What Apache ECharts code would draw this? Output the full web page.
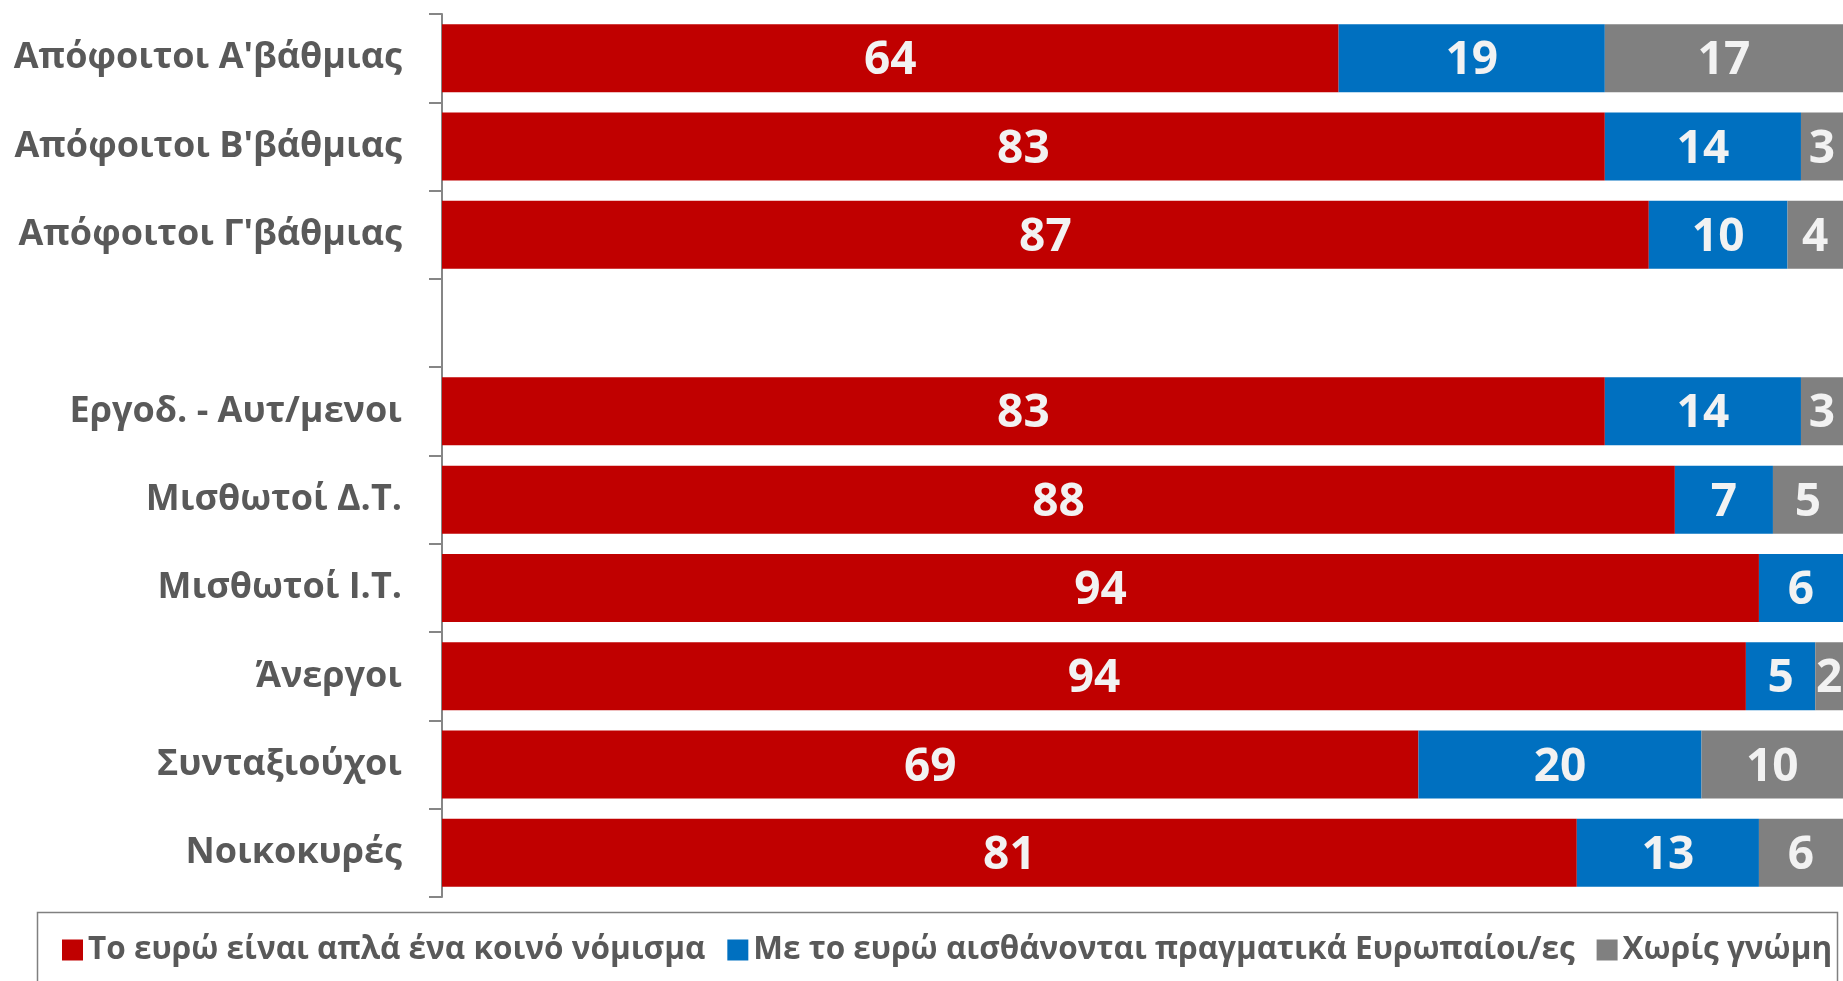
<!DOCTYPE html>
<html><head><meta charset="utf-8">
<script src="https://cdn.jsdelivr.net/npm/echarts@6/dist/echarts.min.js"></script>
<style>html,body{margin:0;padding:0;background:#fff}#c{width:1843px;height:981px}</style>
</head><body><div id="c"></div>
<script>
const categories = ["Απόφοιτοι Α'βάθμιας","Απόφοιτοι Β'βάθμιας","Απόφοιτοι Γ'βάθμιας","","Εργοδ. - Αυτ/μενοι","Μισθωτοί Δ.Τ.","Μισθωτοί Ι.Τ.","Άνεργοι","Συνταξιούχοι","Νοικοκυρές"];
const seriesNames = ["Το ευρώ είναι απλά ένα κοινό νόμισμα","Με το ευρώ αισθάνονται πραγματικά Ευρωπαίοι/ες","Χωρίς γνώμη"];
const commonCurrency = [64,83,87,null,83,88,94,94,69,81];
const feelEuropean   = [19,14,10,null,14,7,6,5,20,13];
const noOpinion      = [17,3,4,null,3,5,null,2,10,6];
const colors = ["#C00000","#0070C0","#808080"];

const raw = [commonCurrency, feelEuropean, noOpinion];
const totals = categories.map((_, i) => raw.reduce((s, a) => s + (a[i] || 0), 0));
const FONT = "'Open Sans', sans-serif";

const series = raw.map((arr, k) => ({
  name: seriesNames[k],
  type: 'bar',
  stack: 'total',
  barCategoryGap: '23%',
  itemStyle: { color: colors[k] },
  label: {
    show: true, position: 'inside', color: '#F2F2F2', offset: [0, 3],
    fontFamily: FONT, fontWeight: 'bold', fontSize: 46,
    formatter: p => p.data.orig
  },
  data: arr.map((v, i) => v == null ? { value: null, orig: '' } : { value: v / totals[i] * 100, orig: v })
}));

const chart = echarts.init(document.getElementById('c'));
chart.setOption({
  animation: false,
  grid: { left: 442, right: 0, top: 14, bottom: 84 },
  xAxis: { type: 'value', min: 0, max: 100, show: false },
  yAxis: {
    type: 'category', inverse: true, data: categories,
    axisLine: { show: true, lineStyle: { color: '#868686', width: 2 } },
    axisTick: { show: true, length: 13, lineStyle: { color: '#868686', width: 2 } },
    axisLabel: { margin: 40, color: '#595959', fontFamily: FONT, fontWeight: 'bold', fontSize: 36, padding: [4, 0, 0, 0] }
  },
  legend: {
    left: 57, top: 929, itemWidth: 21, itemHeight: 21, itemGap: 22, icon: 'rect',
    textStyle: { color: '#595959', fontFamily: FONT, fontWeight: 'bold', fontSize: 31.5 },
    data: seriesNames
  },
  graphic: [{
    type: 'rect', shape: { x: 37.5, y: 912.5, width: 1800, height: 100 },
    style: { fill: 'none', stroke: '#808080', lineWidth: 1.5 }, silent: true
  }],
  series: series
});
</script></body></html>
